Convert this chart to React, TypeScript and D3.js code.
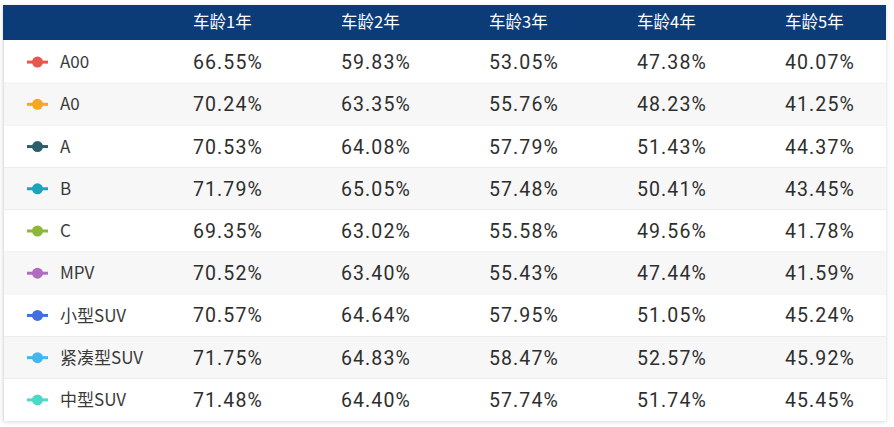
import * as d3 from 'd3';

const CATEGORIES = ['A00', 'A0', 'A', 'B', 'C', 'MPV', '小型SUV', '紧凑型SUV', '中型SUV'];
const COLORS = ['#e8574e', '#f5a623', '#2b5d6b', '#1ea3bd', '#8db73a', '#b16bbf', '#3f6fe2', '#44b5f0', '#4fd8c6'];
const YEARS = ['车龄1年', '车龄2年', '车龄3年', '车龄4年', '车龄5年'];

const Y1 = [66.55, 70.24, 70.53, 71.79, 69.35, 70.52, 70.57, 71.75, 71.48];
const Y2 = [59.83, 63.35, 64.08, 65.05, 63.02, 63.4, 64.64, 64.83, 64.4];
const Y3 = [53.05, 55.76, 57.79, 57.48, 55.58, 55.43, 57.95, 58.47, 57.74];
const Y4 = [47.38, 48.23, 51.43, 50.41, 49.56, 47.44, 51.05, 52.57, 51.74];
const Y5 = [40.07, 41.25, 44.37, 43.45, 41.78, 41.59, 45.24, 45.92, 45.45];
const SERIES = [Y1, Y2, Y3, Y4, Y5];

const W = 894;
const H = 427;
const TABLE = { left: 3, right: 886, top: 5, header: 40, bottom: 421 };

export default function App() {
  const rowScale = d3
    .scaleBand<string>()
    .domain(CATEGORIES)
    .range([TABLE.header + 1, TABLE.bottom]);
  const colScale = d3
    .scaleBand<string>()
    .domain(YEARS)
    .range([193, 193 + 148 * YEARS.length]);
  const fmt = d3.format('.2f');
  const cjk = '"Noto Sans CJK SC", "Noto Sans", sans-serif';
  const num = 'Roboto, "Noto Sans", sans-serif';

  return (
    <div style={{ position: 'fixed', left: 0, top: 0, width: W, height: H, background: '#ffffff' }}>
      <svg width={W} height={H}>
        <defs>
          <filter id="shadow" x="-5%" y="-5%" width="110%" height="115%">
            <feDropShadow dx="0" dy="1" stdDeviation="2" floodColor="#000" floodOpacity="0.15" />
          </filter>
        </defs>
        <rect
          x={TABLE.left}
          y={TABLE.top}
          width={TABLE.right - TABLE.left}
          height={TABLE.bottom - TABLE.top}
          fill="#fff"
          filter="url(#shadow)"
        />
        <rect
          x={TABLE.left}
          y={TABLE.top}
          width={TABLE.right - TABLE.left}
          height={TABLE.header - TABLE.top}
          fill="#0c3c78"
        />
        {YEARS.map((y) => (
          <text
            key={y}
            x={colScale(y)}
            y={(TABLE.top + TABLE.header) / 2}
            dy="0.36em"
            fill="#ffffff"
            fontSize={16.5}
            fontFamily={cjk}
          >
            {y}
          </text>
        ))}
        {CATEGORIES.map((c, i) => {
          const y0 = rowScale(c)!;
          const cy = y0 + rowScale.bandwidth() / 2;
          return (
            <g key={c}>
              <rect
                x={TABLE.left}
                y={y0}
                width={TABLE.right - TABLE.left}
                height={rowScale.bandwidth()}
                fill={i % 2 === 0 ? '#ffffff' : '#f7f7f7'}
              />
              {i < CATEGORIES.length - 1 && (
                <line
                  x1={TABLE.left}
                  x2={TABLE.right}
                  y1={y0 + rowScale.bandwidth()}
                  y2={y0 + rowScale.bandwidth()}
                  stroke="#e3e3e3"
                />
              )}
              <line x1={27} x2={48} y1={cy} y2={cy} stroke={COLORS[i]} strokeWidth={3} />
              <circle cx={37.5} cy={cy} r={5.5} fill={COLORS[i]} />
              <text x={60} y={cy} dy="0.36em" fill="#3a3a3a" fontSize={17} fontFamily={cjk}>
                {c}
              </text>
              {SERIES.map((s, j) => (
                <text
                  key={j}
                  x={colScale(YEARS[j])}
                  y={cy}
                  dy="0.36em"
                  fill="#2e2e2e"
                  fontSize={19.5}
                  letterSpacing={1.1}
                  fontFamily={num}
                >
                  {fmt(s[i])}%
                </text>
              ))}
            </g>
          );
        })}
        <line x1={TABLE.left + 0.5} x2={TABLE.left + 0.5} y1={TABLE.header} y2={TABLE.bottom} stroke="#e3e3e3" />
      </svg>
    </div>
  );
}
